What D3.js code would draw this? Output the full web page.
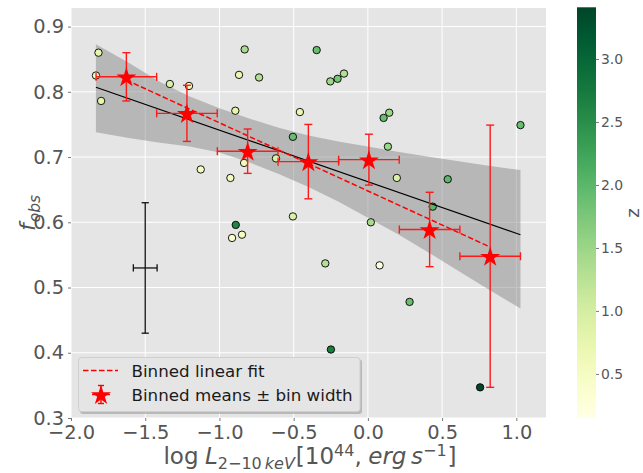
<!DOCTYPE html>
<html>
<head>
<meta charset="utf-8">
<script src="https://cdn.jsdelivr.net/npm/d3@7"></script>
<style>
body { margin: 0; background: #fff; }
text { font-family: "DejaVu Sans", sans-serif; }
</style>
</head>
<body>
<svg id="chart" width="643" height="473"></svg>
<script>
// individual sources
const lumX = [-1.815, -1.832, -1.797, -1.334, -1.205, -1.126, -0.830, -0.868, -0.733, -0.893,
              -0.926, -0.834, -0.619, -0.890, -0.915, -0.848, -0.505, -0.458, -0.505, -0.345,
              -0.253, -0.204, -0.287, -0.249, -0.161, 0.106, 0.144, 0.135, 0.195, 0.020,
              0.079, 0.281, 0.437, 0.538, 0.756, 1.028];
const fObs = [0.860, 0.825, 0.786, 0.812, 0.809, 0.681, 0.865, 0.826, 0.822, 0.771,
              0.668, 0.691, 0.698, 0.596, 0.576, 0.581, 0.731, 0.769, 0.609, 0.864,
              0.816, 0.820, 0.537, 0.405, 0.828, 0.760, 0.768, 0.716, 0.668, 0.600,
              0.534, 0.478, 0.624, 0.666, 0.347, 0.749];
const redshift = [0.8, 0.6, 0.8, 0.9, 0.6, 0.5, 1.4, 0.7, 1.3, 0.8,
                  0.5, 0.6, 0.9, 2.6, 0.4, 0.5, 1.9, 0.7, 0.9, 1.9,
                  1.5, 1.8, 1.3, 2.7, 1.3, 1.9, 1.5, 1.5, 0.9, 1.4,
                  0.2, 1.9, 2.0, 2.0, 3.4, 1.9];

// binned means
const binX = [-1.627, -1.219, -0.810, -0.401, 0.007, 0.416, 0.824];
const binHalfWidth = 0.204;
const binMean = [0.823, 0.767, 0.709, 0.693, 0.696, 0.589, 0.548];
const binErr = [0.037, 0.043, 0.034, 0.057, 0.039, 0.057, 0.201];

// fits
const fitAllX = [-1.832, 1.028];
const fitAllY = [0.807, 0.581];
const binFitX = [-1.627, 0.824];
const binFitY = [0.818, 0.562];

// confidence band of the overall fit
const bandX    = [-1.832, -1.6, -1.4, -1.2, -1.0, -0.8, -0.6, -0.4, -0.2, 0.0, 0.2, 0.4, 0.6, 0.8, 1.028];
const bandHigh = [0.873, 0.843, 0.815, 0.793, 0.775, 0.759, 0.745, 0.733, 0.724, 0.716, 0.708, 0.701, 0.694, 0.687, 0.680];
const bandLow  = [0.738, 0.729, 0.722, 0.716, 0.707, 0.692, 0.674, 0.654, 0.632, 0.607, 0.582, 0.555, 0.527, 0.499, 0.468];

// typical error
const repX = -1.5, repY = 0.53, repXErr = 0.08, repYErr = 0.1;

const xTicks = [-2.0, -1.5, -1.0, -0.5, 0.0, 0.5, 1.0];
const yTicks = [0.3, 0.4, 0.5, 0.6, 0.7, 0.8, 0.9];
const zTicks = [0.5, 1.0, 1.5, 2.0, 2.5, 3.0];

const svg = d3.select("#chart");
const plot = { left: 71, right: 546, top: 8, bottom: 418 };

const x = d3.scaleLinear().domain([-2.0, 1.2]).range([plot.left, plot.right]);
const y = d3.scaleLinear().domain([0.3, 0.9285]).range([plot.bottom, plot.top]);
const zScale = d3.scaleLinear().domain([0.15, 3.41]).range([plot.bottom, 7.3]);
const color = d3.scaleSequential(d3.interpolateYlGn).domain([0.15, 3.41]);
const fmt = d3.format(".1f");
const minus = s => s.replace("-", "\u2212");

svg.append("rect")
    .attr("x", plot.left).attr("y", plot.top)
    .attr("width", plot.right - plot.left).attr("height", plot.bottom - plot.top)
    .attr("fill", "#e5e5e5");

const grid = svg.append("g").attr("stroke", "#fff").attr("stroke-width", 1);
grid.selectAll(".gx").data(xTicks).enter().append("line")
    .attr("x1", d => x(d)).attr("x2", d => x(d))
    .attr("y1", plot.top).attr("y2", plot.bottom);
grid.selectAll(".gy").data(yTicks).enter().append("line")
    .attr("x1", plot.left).attr("x2", plot.right)
    .attr("y1", d => y(d)).attr("y2", d => y(d));

// axes
const xAxis = d3.axisBottom(x).tickValues(xTicks).tickSize(3).tickPadding(4)
    .tickFormat(d => minus(fmt(d)));
const yAxis = d3.axisLeft(y).tickValues(yTicks).tickSize(3).tickPadding(4)
    .tickFormat(fmt);

const gx = svg.append("g").attr("transform", `translate(0,${plot.bottom})`).call(xAxis);
const gy = svg.append("g").attr("transform", `translate(${plot.left},0)`).call(yAxis);
[gx, gy].forEach(g => {
    g.select(".domain").remove();
    g.selectAll(".tick line").attr("stroke", "#555").attr("stroke-width", 0.8);
    g.selectAll(".tick text").attr("fill", "#555").style("font-size", "19.4px")
        .style("font-family", "DejaVu Sans");
});

// band
const band = d3.area()
    .x((d, i) => x(bandX[i]))
    .y0((d, i) => y(bandLow[i]))
    .y1((d, i) => y(bandHigh[i]));
svg.append("path").datum(bandX).attr("d", band)
    .attr("fill", "#8a8a8a").attr("fill-opacity", 0.5);

// points
svg.append("g").selectAll("circle")
    .data(lumX.map((v, i) => ({ x: v, y: fObs[i], z: redshift[i] })))
    .enter().append("circle")
    .attr("cx", d => x(d.x)).attr("cy", d => y(d.y)).attr("r", 3.7)
    .attr("fill", d => color(d.z))
    .attr("stroke", "#000").attr("stroke-width", 0.9);

// fit lines
const line = d3.line().x(d => x(d[0])).y(d => y(d[1]));
svg.append("path").datum(fitAllX.map((v, i) => [v, fitAllY[i]])).attr("d", line)
    .attr("fill", "none").attr("stroke", "#000").attr("stroke-width", 1.1);
svg.append("path").datum(binFitX.map((v, i) => [v, binFitY[i]])).attr("d", line)
    .attr("fill", "none").attr("stroke", "red").attr("stroke-width", 1.5)
    .attr("stroke-dasharray", "5.5,2.5");

// error bars helper
function errorBar(g, cx, cy, dx, dy, col, cap, w) {
    g.append("line").attr("x1", x(cx - dx)).attr("x2", x(cx + dx))
        .attr("y1", y(cy)).attr("y2", y(cy));
    g.append("line").attr("x1", x(cx)).attr("x2", x(cx))
        .attr("y1", y(cy - dy)).attr("y2", y(cy + dy));
    [cx - dx, cx + dx].forEach(v => g.append("line")
        .attr("x1", x(v)).attr("x2", x(v))
        .attr("y1", y(cy) - cap).attr("y2", y(cy) + cap));
    [cy - dy, cy + dy].forEach(v => g.append("line")
        .attr("x1", x(cx) - cap).attr("x2", x(cx) + cap)
        .attr("y1", y(v)).attr("y2", y(v)));
    g.attr("stroke", col).attr("stroke-width", w);
}

const errG = svg.append("g");
binX.forEach((v, i) => errorBar(errG.append("g"), v, binMean[i], binHalfWidth, binErr[i], "#ff1a1a", 4, 1.4));
errorBar(svg.append("g"), repX, repY, repXErr, repYErr, "#111", 3.6, 1.3);

const star = d3.symbol().type(d3.symbolStar).size(125);
svg.append("g").selectAll("path")
    .data(binX.map((v, i) => [v, binMean[i]]))
    .enter().append("path")
    .attr("d", star)
    .attr("transform", d => `translate(${x(d[0])},${y(d[1]) + 1})`)
    .attr("fill", "red");

// legend
const lg = svg.append("g");
lg.append("rect").attr("x", 80).attr("y", 359.5).attr("width", 282).attr("height", 54.5)
    .attr("rx", 3).attr("fill", "#999").attr("fill-opacity", 0.6);
lg.append("rect").attr("x", 78.5).attr("y", 357.5).attr("width", 281.5).attr("height", 54)
    .attr("rx", 3).attr("fill", "#e5e5e5").attr("stroke", "#cfcfcf").attr("stroke-width", 1);
lg.append("line").attr("x1", 83).attr("x2", 118).attr("y1", 370.5).attr("y2", 370.5)
    .attr("stroke", "red").attr("stroke-width", 1.5).attr("stroke-dasharray", "5.5,2.5");
const legErr = lg.append("g").attr("stroke", "red").attr("stroke-width", 1.4);
legErr.append("line").attr("x1", 92).attr("x2", 110).attr("y1", 394.5).attr("y2", 394.5);
legErr.append("line").attr("x1", 101).attr("x2", 101).attr("y1", 385.5).attr("y2", 403.5);
legErr.append("line").attr("x1", 98).attr("x2", 104).attr("y1", 385.5).attr("y2", 385.5);
legErr.append("line").attr("x1", 98).attr("x2", 104).attr("y1", 403.5).attr("y2", 403.5);
lg.append("path").attr("d", star).attr("transform", "translate(101,395.5)").attr("fill", "red");
lg.append("text").attr("x", 131.5).attr("y", 376.5).attr("fill", "#1a1a1a")
    .style("font-size", "16.7px").text("Binned linear fit");
lg.append("text").attr("x", 131.5).attr("y", 400.5).attr("fill", "#1a1a1a")
    .style("font-size", "16.7px").text("Binned means \u00b1 bin width");

// colorbar
const defs = svg.append("defs");
const grad = defs.append("linearGradient").attr("id", "zgrad")
    .attr("x1", 0).attr("y1", 1).attr("x2", 0).attr("y2", 0);
d3.range(0, 1.0001, 0.05).forEach(t => grad.append("stop")
    .attr("offset", t).attr("stop-color", d3.interpolateYlGn(t)));
const cb = { x: 577, w: 19 };
svg.append("rect").attr("x", cb.x).attr("y", zScale.range()[1])
    .attr("width", cb.w).attr("height", plot.bottom - zScale.range()[1])
    .attr("fill", "url(#zgrad)");
const zAxis = d3.axisRight(zScale).tickValues(zTicks).tickSize(3).tickPadding(2).tickFormat(fmt);
const gz = svg.append("g").attr("transform", `translate(${cb.x + cb.w},0)`).call(zAxis);
gz.select(".domain").remove();
gz.selectAll(".tick line").attr("stroke", "#555").attr("stroke-width", 0.8);
gz.selectAll(".tick text").attr("fill", "#555").style("font-size", "13.9px")
    .style("font-family", "DejaVu Sans");

svg.append("text").attr("transform", "translate(639,213) rotate(-90)")
    .attr("text-anchor", "middle").attr("fill", "#555").style("font-size", "18px")
    .text("z");

// axis labels
function mathText(el, parts) {
    let off = 0;
    parts.forEach(p => {
        const shift = p.shift || 0;
        el.append("tspan")
            .attr("dy", shift - off)
            .style("font-style", p.it ? "italic" : "normal")
            .style("font-size", p.size ? p.size + "px" : null)
            .attr("dx", p.dx || 0)
            .text(p.t);
        off = shift;
    });
}

const xl = svg.append("text").attr("x", 310).attr("y", 464).attr("text-anchor", "middle")
    .attr("fill", "#555").style("font-size", "23px");
mathText(xl, [
    { t: "log" },
    { t: "L", it: true, dx: 6.5 },
    { t: "2\u221210", size: 16, shift: 4.5 },
    { t: "keV", it: true, size: 16, shift: 4.5, dx: 3 },
    { t: "[10", dx: 1 },
    { t: "44", size: 16, shift: -8 },
    { t: ",", shift: 0 },
    { t: "erg", it: true, dx: 6.5 },
    { t: "s", it: true, dx: 4.5 },
    { t: "\u22121", size: 16, shift: -8 },
    { t: "]", shift: 0, dx: 1 }
]);

const yl = svg.append("text").attr("transform", "translate(35,213) rotate(-90)")
    .attr("text-anchor", "middle").attr("fill", "#555").style("font-size", "22px");
mathText(yl, [
    { t: "f", it: true },
    { t: "obs", it: true, size: 15.5, shift: 4.5, dx: 1 }
]);
</script>
</body>
</html>
